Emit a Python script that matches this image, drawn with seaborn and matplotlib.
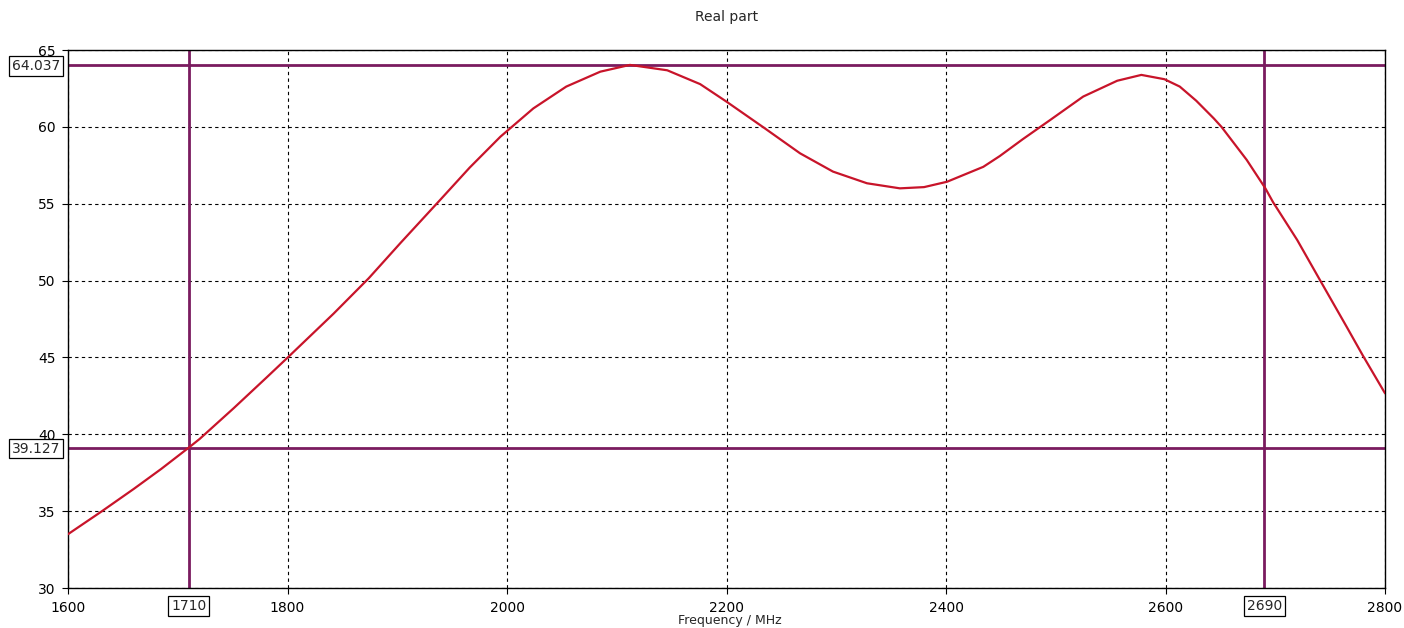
import matplotlib
matplotlib.use("Agg")
import matplotlib.pyplot as plt
import matplotlib.transforms as mtrans
import seaborn as sns
import pandas as pd

# ---- data ----
freq_mhz = [1600, 1631, 1660, 1685, 1710, 1720, 1751, 1781, 1801, 1842, 1874, 1903,
            1939, 1966, 1994, 2024, 2054, 2085, 2112, 2146, 2176, 2200, 2234, 2267,
            2297, 2328, 2358, 2380, 2401, 2434, 2449, 2470, 2495, 2525, 2556, 2578,
            2599, 2613, 2628, 2644, 2651, 2674, 2691, 2698, 2720, 2741, 2765, 2780,
            2800]
real_part = [33.5, 35.0, 36.45, 37.75, 39.13, 39.7, 41.7, 43.7, 45.05, 47.85, 50.15, 52.45,
             55.24, 57.35, 59.36, 61.2, 62.62, 63.59, 64.03, 63.68, 62.78, 61.64, 59.95, 58.28,
             57.09, 56.33, 56.0, 56.08, 56.43, 57.4, 58.1, 59.2, 60.45, 61.97, 63.0, 63.38,
             63.1, 62.62, 61.7, 60.55, 60.0, 57.85, 56.0, 55.1, 52.64, 50.0, 47.0, 45.1,
             42.67]

marker_values = [64.037, 39.127]
marker_freqs = [1710, 2690]
marker_value_labels = ["64.037", "39.127"]
marker_freq_labels = ["1710", "2690"]

x_ticks = [1600, 1800, 2000, 2200, 2400, 2600, 2800]
y_ticks = [30, 35, 40, 45, 50, 55, 60, 65]

title = "Real part"
x_label = "Frequency / MHz"

df = pd.DataFrame({"freq": freq_mhz, "real": real_part})

sns.set_style("ticks")
plt.rcParams["font.family"] = ["DejaVu Sans"]

fig = plt.figure(figsize=(14.04, 6.28), dpi=100)
ax = fig.add_axes([68 / 1404, 40 / 628, 1317 / 1404, 538 / 628])

marker_color = "#7a1b5f"
curve_color = "#c8142a"

ax.grid(True, color="black", linestyle=(0, (3, 3)), linewidth=0.8)
ax.set_axisbelow(True)

for v in marker_values:
    ax.axhline(v, color=marker_color, linewidth=2, zorder=2)
for f in marker_freqs:
    ax.axvline(f, color=marker_color, linewidth=2, zorder=2)

sns.lineplot(data=df, x="freq", y="real", ax=ax, color=curve_color,
             linewidth=1.6, zorder=3)

ax.set_xlim(1600, 2800)
ax.set_ylim(30, 65)
ax.set_xticks(x_ticks)
ax.set_yticks(y_ticks)
ax.set_xticklabels([str(t) for t in x_ticks])
ax.set_yticklabels([str(t) for t in y_ticks])
ax.tick_params(axis="both", labelsize=10, length=4, width=0.8, color="black",
               labelcolor="black", pad=5)
ax.set_xlabel("")
ax.set_ylabel("")
for s in ax.spines.values():
    s.set_visible(True)
    s.set_color("black")
    s.set_linewidth(1)

box = dict(boxstyle="square,pad=0.2", facecolor="white", edgecolor="black",
           linewidth=0.9)

ytrans = mtrans.blended_transform_factory(ax.transAxes, ax.transData)
for v, lab in zip(marker_values, marker_value_labels):
    ax.annotate(lab, xy=(0, v), xycoords=ytrans, xytext=(-8, -1),
                textcoords="offset pixels", ha="right", va="center",
                fontsize=10, bbox=box, zorder=5, annotation_clip=False)

xtrans = mtrans.blended_transform_factory(ax.transData, ax.transAxes)
for f, lab in zip(marker_freqs, marker_freq_labels):
    ax.annotate(lab, xy=(f, 0), xycoords=xtrans, xytext=(0, -18),
                textcoords="offset pixels", ha="center", va="center",
                fontsize=10, bbox=box, zorder=5, annotation_clip=False)

fig.text(727 / 1404, 1 - 17 / 628, title, ha="center", va="center", fontsize=10)
fig.text(730 / 1404, 1 / 628, x_label, ha="center", va="bottom", fontsize=9)

fig.savefig("out.png", dpi=100, facecolor="white")
